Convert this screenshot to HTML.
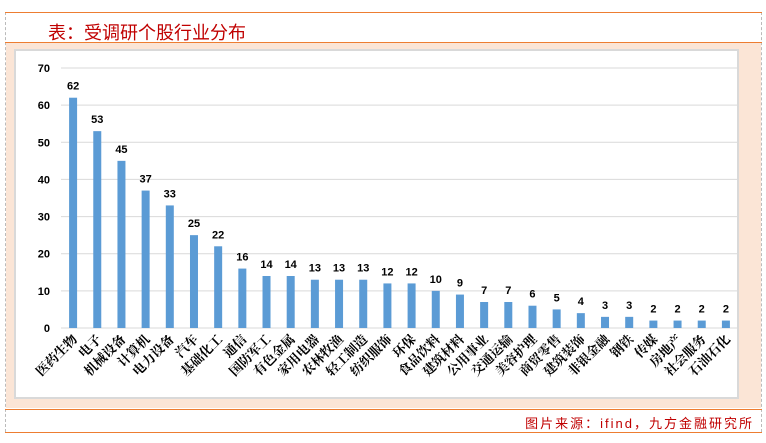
<!DOCTYPE html>
<html><head><meta charset="utf-8"><style>
body{margin:0;width:766px;height:443px;background:#fff;overflow:hidden;position:relative;font-family:"Liberation Sans","Noto Sans CJK SC",sans-serif}
.ln{position:absolute;left:5px;width:757px;height:0;border-top:1.5px solid #ed7d31}
</style></head><body>
<div style="position:absolute;left:5px;top:12px;height:420px;border-left:1px dashed #bbb"></div>
<div style="position:absolute;left:761px;top:12px;height:420px;border-left:1px dashed #bbb"></div>
<div class="ln" style="top:12px"></div>
<div style="position:absolute;left:48px;top:19px;font-size:18px;color:#c00000;font-family:'Liberation Sans','Noto Sans CJK SC',sans-serif">表：受调研个股行业分布</div>
<div class="ln" style="top:42px"></div>
<div style="position:absolute;left:6px;top:43px;width:755px;height:365px;background:#fbe5d6"></div>
<div class="ln" style="top:409px"></div>
<div style="position:absolute;right:12px;top:413px;font-size:13px;letter-spacing:2px;color:#c00000">图片来源：ifind，九方金融研究所</div>
<div class="ln" style="top:432px"></div>
<svg id="c" width="766" height="443" style="position:absolute;left:0;top:0"></svg>
<script>
const categories=["医药生物","电子","机械设备","计算机","电力设备","汽车","基础化工","通信","国防军工","有色金属","家用电器","农林牧渔","轻工制造","纺织服饰","环保","食品饮料","建筑材料","公用事业","交通运输","美容护理","商贸零售","建筑装饰","非银金融","钢铁","传媒","房地产","社会服务","石油石化"];
const values=[62,53,45,37,33,25,22,16,14,14,13,13,13,12,12,10,9,7,7,6,5,4,3,3,2,2,2,2];
const yTicks=[0,10,20,30,40,50,60,70];
const NS="http://www.w3.org/2000/svg";
const svg=document.getElementById('c');
const x0=61,x1=738,y0=328,y1=68,yMax=70;
const y=v=>y0-(v/yMax)*(y0-y1);
const step=(x1-x0)/categories.length;
const xc=i=>x0+step*(i+0.5);
function el(t,a){const e=document.createElementNS(NS,t);for(const k in a)e.setAttribute(k,a[k]);svg.appendChild(e);return e;}
const box=el('rect',{x:15,y:50,width:723,height:348,fill:'#fff',stroke:'#d9d9d9','stroke-width':2});


yTicks.forEach(t=>{
  const g=el('line',{x1:x0,x2:x1,y1:y(t),y2:y(t),stroke:'#d9d9d9','stroke-width':1});
  
  
  const tx=el('text',{x:50,y:y(t)+4,'text-anchor':'end','font-size':11,'font-weight':'bold',fill:'#000','font-family':'Liberation Sans, sans-serif'});
  tx.textContent=t;
  
  
});
categories.forEach((c,i)=>{
  const cx=xc(i);
  const b=el('rect',{x:cx-4,y:y(values[i]),width:8,height:y0-y(values[i]),fill:'#5b9bd5'});
  
  
  const v=el('text',{x:cx,y:y(values[i])-8,'text-anchor':'middle','font-size':11,'font-weight':'bold',fill:'#000','font-family':'Liberation Sans, sans-serif'});
  v.textContent=values[i];
  
  
  const l=el('text',{x:cx+5,y:y0+12,'text-anchor':'end','font-size':13,'font-weight':'bold',fill:'#000','font-family':'Liberation Serif, Noto Serif CJK SC, serif',transform:`rotate(-45 ${cx+5} ${y0+12})`});
  l.textContent=c;
  
  
});
</script>
</body></html>
